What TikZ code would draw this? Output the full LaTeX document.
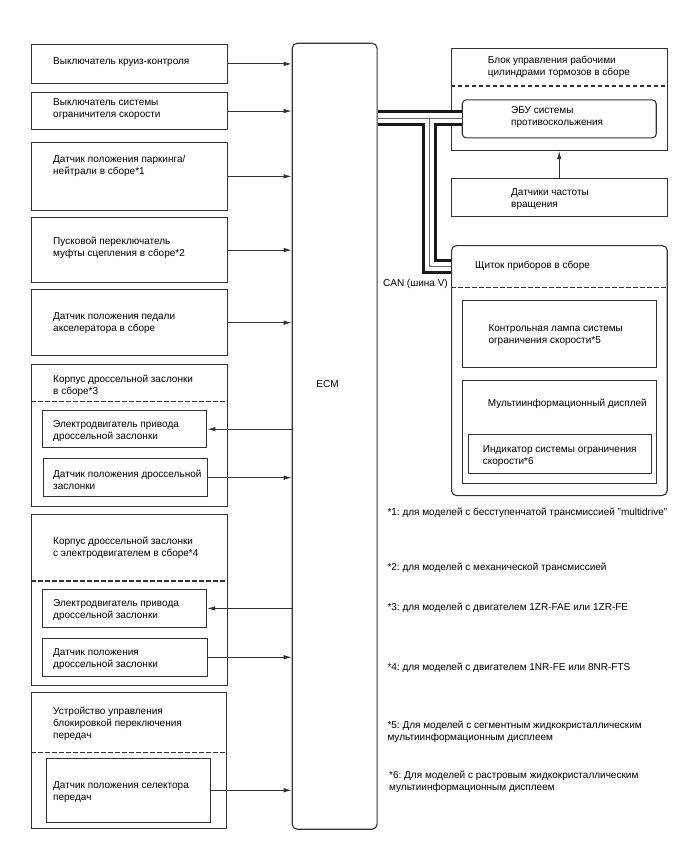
\documentclass[tikz,border=0pt]{standalone}
\usepackage{fontspec}
\setmainfont{Liberation Sans}
\usetikzlibrary{arrows.meta}
\frenchspacing

\begin{document}
\begin{tikzpicture}[x=1pt,y=-1pt,box/.style={draw=black!80,line width=1.1pt,anchor=north west,inner sep=0pt},rbox/.style={box,rounded corners=5pt},lbl/.style={anchor=west,align=left,inner sep=0pt,font=\fontsize{10}{12}\selectfont},sep/.style={draw=black!80,line width=1.1pt,dash pattern=on 4.5pt off 2.5pt},arrow/.style={-{Latex[length=8pt,width=4.5pt]},line width=0.9pt,draw=black!80}]
\useasboundingbox (0,0) rectangle (688,852);
% left column: inputs to ECM
\node[box,minimum width=196pt,minimum height=38.7pt] (cruise) at (31,44) {}; \node[lbl] (tcruise) at (53,62) {Выключатель круиз-контроля};
\node[box,minimum width=196pt,minimum height=37.6pt] (limsw) at (31,91.7) {}; \node[lbl] (tlimsw) at (53,109.5) {Выключатель системы\\ограничителя скорости};
\node[box,minimum width=196pt,minimum height=68.3pt] (pnp) at (31,141.7) {}; \node[lbl] (tpnp) at (53,165.5) {Датчик положения паркинга/\\нейтрали в сборе*1};
\node[box,minimum width=196pt,minimum height=65.6pt] (clutch) at (31,216.7) {}; \node[lbl] (tclutch) at (53,248.3) {Пусковой переключатель\\муфты сцепления в сборе*2};
\node[box,minimum width=196pt,minimum height=65.7pt] (accel) at (31,289.3) {}; \node[lbl] (taccel) at (53,323.5) {Датчик положения педали\\акселератора в сборе};
% throttle body *3
\node[box,minimum width=196pt,minimum height=142pt] (thra) at (31,364) {}; \node[lbl] (tthra) at (53,386) {Корпус дроссельной заслонки\\в сборе*3};
\draw[sep] (31,401.7) -- (227,401.7);
\node[box,minimum width=164.3pt,minimum height=37.3pt] (mota) at (42,410) {}; \node[lbl] (tmota) at (53,431) {Электродвигатель привода\\дроссельной заслонки};
\node[box,minimum width=164pt,minimum height=37.7pt] (tpsa) at (43,458.3) {}; \node[lbl] (ttpsa) at (53,480) {Датчик положения дроссельной\\заслонки};
% throttle body *4
\node[box,minimum width=196pt,minimum height=171.3pt] (thrb) at (31,514) {}; \node[lbl] (tthrb) at (53,548.3) {Корпус дроссельной заслонки\\с электродвигателем в сборе*4};
\draw[sep] (31,581) -- (227,581);
\node[box,minimum width=164pt,minimum height=37.7pt] (motb) at (42,589) {}; \node[lbl] (tmotb) at (53,610) {Электродвигатель привода\\дроссельной заслонки};
\node[box,minimum width=165pt,minimum height=38pt] (tpsb) at (42,637.7) {}; \node[lbl] (ttpsb) at (53,659.2) {Датчик положения\\дроссельной заслонки};
% shift lock
\node[box,minimum width=195pt,minimum height=136.6pt] (shlk) at (31,691.7) {}; \node[lbl] (tshlk) at (53,724.2) {Устройство управления\\блокировкой переключения\\передач};
\draw[sep] (31,752.3) -- (226,752.3);
\node[box,minimum width=164.6pt,minimum height=64pt] (shsel) at (45.7,757.7) {}; \node[lbl] (tshsel) at (53,792.5) {Датчик положения селектора\\передач};
% ECM
\node[rbox,minimum width=84.8pt,minimum height=786pt] (ecm) at (291.7,42.7) {}; \node[lbl,anchor=center] (tecm) at (327.5,384) {ECM};
\foreach \src in {cruise,limsw,pnp,clutch,accel,tpsa,tpsb,shsel} \draw[arrow] (\src.east) -- (ecm.west|-\src.east);
\foreach \dst in {mota,motb} \draw[arrow] (ecm.west|-\dst.east) -- (\dst.east);
% right column
\node[box,minimum width=216pt,minimum height=101.7pt] (brk) at (450.7,48.3) {}; \node[lbl] (tbrk) at (487.7,66.7) {Блок управления рабочими\\цилиндрами тормозов в сборе};
\draw[sep] (450.7,86) -- (666.7,86);
\node[box,rounded corners=4pt,minimum width=194pt,minimum height=38pt] (ecu) at (461.7,99.3) {}; \node[lbl] (tecu) at (511,116.7) {ЭБУ системы\\противоскольжения};
\node[box,minimum width=216pt,minimum height=37.4pt] (spd) at (450.7,178.3) {}; \node[lbl] (tspd) at (511,199.5) {Датчики частоты\\вращения};
\draw[arrow] (spd.north) -- (brk.south);
\node[rbox,minimum width=215.7pt,minimum height=250pt] (clu) at (451,245) {}; \node[lbl] (tclu) at (475,266) {Щиток приборов в сборе};
\draw[sep] (451,287.3) -- (666.7,287.3);
\node[box,minimum width=194pt,minimum height=66.7pt] (lamp) at (461.7,300) {}; \node[lbl] (tlamp) at (488.3,335.5) {Контрольная лампа системы\\ограничения скорости*5};
\node[box,minimum width=194pt,minimum height=102.7pt] (mfd) at (461.7,380) {}; \node[lbl] (tmfd) at (487.7,404.3) {Мультиинформационный дисплей};
\node[box,minimum width=183pt,minimum height=39pt] (ind) at (467.7,434.3) {}; \node[lbl] (tind) at (482.7,456.2) {Индикатор системы ограничения\\скорости*6};
% CAN bus
\coordinate (jn) at (429.5,118); \coordinate (jb) at (429.5,266.5);
\foreach \w/\c in {15.4/black!90,9.4/white,0.7/black!60}{\draw[line width=\w pt,draw=\c] (ecm.east|-jn) -- (ecu.west|-jn); \draw[line width=\w pt,draw=\c] (jn) -- (jb) -- (clu.west|-jb);}
\node[lbl,anchor=east] (can) at (448,284) {CAN (шина V)};
% notes
\node[lbl] (n1) at (387.3,513.3) {*1: для моделей с бесступенчатой трансмиссией "multidrive"};
\node[lbl] (n2) at (387.3,568.3) {*2: для моделей с механической трансмиссией};
\node[lbl] (n3) at (387.3,607.3) {*3: для моделей с двигателем 1ZR-FAE или 1ZR-FE};
\node[lbl] (n4) at (387.3,667.7) {*4: для моделей с двигателем 1NR-FE или 8NR-FTS};
\node[lbl] (n5) at (387.3,732.2) {*5: Для моделей с сегментным жидкокристаллическим\\мультиинформационным дисплеем};
\node[lbl] (n6) at (389,782.3) {*6: Для моделей с растровым жидкокристаллическим\\мультиинформационным дисплеем};
\end{tikzpicture}
\end{document}
